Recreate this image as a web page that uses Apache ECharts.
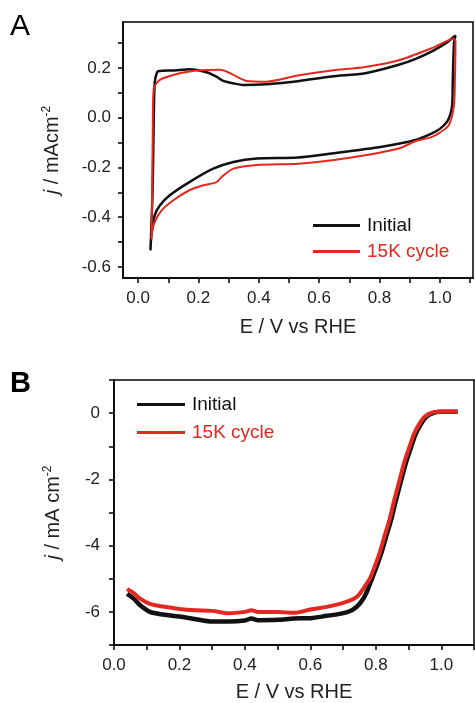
<!DOCTYPE html>
<html>
<head>
<meta charset="utf-8">
<script src="https://cdn.jsdelivr.net/npm/echarts@6/dist/echarts.min.js"></script>
<style>
  html, body { margin: 0; padding: 0; background: #fff; }
  #chart { width: 475px; height: 703px; }
</style>
</head>
<body>
<div id="chart"></div>
<script>
// panel A: cyclic voltammograms (E / V, j / mA cm-2), closed loops
const cvInitial = [
  [0.041, -0.534], [0.048, -0.3], [0.052, 0.0], [0.055, 0.14], [0.062, 0.18], [0.07, 0.188],
  [0.12, 0.19], [0.17, 0.195], [0.227, 0.183], [0.26, 0.165], [0.282, 0.148], [0.32, 0.137],
  [0.349, 0.132], [0.426, 0.135], [0.53, 0.147], [0.642, 0.166], [0.753, 0.179], [0.864, 0.213],
  [0.92, 0.237], [0.974, 0.267], [1.02, 0.3], [1.052, 0.331],
  [1.047, 0.3], [1.043, 0.15], [1.041, 0.051], [1.034, 0.01], [1.024, -0.016], [1.0, -0.045],
  [0.974, -0.063], [0.919, -0.09], [0.808, -0.117], [0.642, -0.144], [0.53, -0.16], [0.393, -0.164],
  [0.316, -0.178], [0.249, -0.205], [0.17, -0.259], [0.105, -0.312], [0.072, -0.353], [0.055, -0.393],
  [0.044, -0.474], [0.041, -0.534]
];
const cv15k = [
  [0.044, -0.49], [0.047, -0.3], [0.049, 0.0], [0.052, 0.118], [0.072, 0.152], [0.116, 0.172],
  [0.17, 0.186], [0.22, 0.192], [0.271, 0.193], [0.295, 0.185], [0.316, 0.172], [0.36, 0.148],
  [0.426, 0.145], [0.53, 0.17], [0.642, 0.19], [0.753, 0.204], [0.864, 0.231], [0.974, 0.28],
  [1.047, 0.318],
  [1.052, 0.307], [1.05, 0.15], [1.047, 0.051], [1.03, -0.03], [1.0, -0.06], [0.974, -0.077],
  [0.919, -0.095], [0.864, -0.124], [0.753, -0.151], [0.642, -0.171], [0.53, -0.185], [0.393, -0.19],
  [0.316, -0.205], [0.28, -0.235], [0.26, -0.259], [0.216, -0.272], [0.17, -0.292], [0.116, -0.333],
  [0.078, -0.373], [0.055, -0.42], [0.046, -0.46], [0.044, -0.49]
];

// panel B: ORR polarization curves
const orrInitial = [
  [0.04, -5.46], [0.06, -5.6], [0.08, -5.8], [0.11, -6.0], [0.15, -6.08], [0.2, -6.14],
  [0.25, -6.22], [0.3, -6.29], [0.35, -6.29], [0.4, -6.26], [0.42, -6.2], [0.44, -6.25],
  [0.5, -6.24], [0.55, -6.2], [0.6, -6.19], [0.65, -6.12], [0.69, -6.06], [0.72, -5.98],
  [0.74, -5.86], [0.755, -5.7], [0.77, -5.45], [0.785, -5.08], [0.8, -4.7], [0.816, -4.25],
  [0.831, -3.75], [0.846, -3.25], [0.861, -2.65], [0.877, -2.05], [0.892, -1.5], [0.907, -1.05],
  [0.922, -0.63], [0.938, -0.33], [0.954, -0.11], [0.977, 0.01], [1.0, 0.04], [1.05, 0.04]
];
const orr15k = [
  [0.04, -5.31], [0.06, -5.43], [0.08, -5.6], [0.11, -5.76], [0.15, -5.84], [0.2, -5.91],
  [0.25, -5.95], [0.3, -5.97], [0.35, -6.04], [0.4, -6.0], [0.42, -5.95], [0.44, -6.0],
  [0.5, -6.0], [0.55, -6.03], [0.6, -5.93], [0.65, -5.85], [0.69, -5.76], [0.72, -5.66],
  [0.74, -5.56], [0.751, -5.45], [0.765, -5.25], [0.781, -5.01], [0.797, -4.62], [0.812, -4.21],
  [0.827, -3.7], [0.842, -3.21], [0.857, -2.6], [0.873, -2.01], [0.888, -1.45], [0.903, -1.01],
  [0.918, -0.6], [0.934, -0.31], [0.95, -0.1], [0.974, 0.02], [1.0, 0.04], [1.05, 0.04]
];

// ticks
const xLabelsA = [0, 0.2, 0.4, 0.6, 0.8, 1.0];
const xTicksA = [0, 0.1, 0.2, 0.3, 0.4, 0.5, 0.6, 0.7, 0.8, 0.9, 1.0, 1.1];
const yLabelsA = [-0.6, -0.4, -0.2, 0, 0.2];
const yTicksA = [-0.6, -0.5, -0.4, -0.3, -0.2, -0.1, 0, 0.1, 0.2, 0.3];
const xLabelsB = [0, 0.2, 0.4, 0.6, 0.8, 1.0];
const xTicksB = [0, 0.1, 0.2, 0.3, 0.4, 0.5, 0.6, 0.7, 0.8, 0.9, 1.0, 1.1];
const yLabelsB = [-6, -4, -2, 0];
const yTicksB = [-7, -6, -5, -4, -3, -2, -1, 0, 1];

const BLACK = '#111';
const RED = '#e3281f';
const FONT = 'Liberation Sans, Arial, sans-serif';

function axisCommon(labels, ticks, fmt, margin) {
  return {
    axisLine: { show: true, onZero: false, lineStyle: { color: '#000', width: 1.5 } },
    axisTick: { show: true, inside: false, length: 5, customValues: ticks, lineStyle: { color: '#000', width: 1.5 } },
    axisLabel: { customValues: labels, formatter: fmt, color: '#222', fontSize: 17, fontFamily: FONT, margin: margin },
    splitLine: { show: false },
    nameLocation: 'middle'
  };
}
const f1 = v => Number(v).toFixed(1);
const f0 = v => Number(v).toFixed(0);

const nameStyle = {
  color: '#222', fontSize: 20, fontFamily: FONT,
  rich: {
    i: { fontStyle: 'italic', fontSize: 20, fontFamily: FONT, color: '#222' },
    s: { fontSize: 12, fontFamily: FONT, color: '#222', verticalAlign: 'top', lineHeight: 22 }
  }
};

const chart = echarts.init(document.getElementById('chart'), null, { renderer: 'canvas' });
chart.setOption({
  animation: false,
  backgroundColor: '#fff',
  grid: [
    { left: 123, top: 22, width: 350, height: 256, show: true, borderColor: '#000', borderWidth: 1.5, backgroundColor: 'transparent' },
    { left: 114, top: 380, width: 360, height: 267, show: true, borderColor: '#000', borderWidth: 1.5, backgroundColor: 'transparent' }
  ],
  xAxis: [
    Object.assign(axisCommon(xLabelsA, xTicksA, f1, 12), {
      type: 'value', gridIndex: 0, min: -0.05, max: 1.11,
      name: 'E / V vs RHE', nameGap: 39, nameTextStyle: nameStyle
    }),
    Object.assign(axisCommon(xLabelsB, xTicksB, f1, 12), {
      type: 'value', gridIndex: 1, min: 0, max: 1.1,
      name: 'E / V vs RHE', nameGap: 37, nameTextStyle: nameStyle
    })
  ],
  yAxis: [
    Object.assign(axisCommon(yLabelsA, yTicksA, f1, 12), {
      type: 'value', gridIndex: 0, min: -0.645, max: 0.385,
      name: '{i|j} / mAcm{s|-2}', nameGap: 60, nameRotate: 90, nameTextStyle: nameStyle
    }),
    Object.assign(axisCommon(yLabelsB, yTicksB, f0, 14), {
      type: 'value', gridIndex: 1, min: -7, max: 1,
      name: '{i|j} / mA cm{s|-2}', nameGap: 50, nameRotate: 90, nameTextStyle: nameStyle
    })
  ],
  legend: [
    {
      left: 313, top: 216, orient: 'vertical', itemGap: 7, padding: 0,
      itemWidth: 47, itemHeight: 3, icon: 'rect',
      textStyle: { fontSize: 19, fontFamily: FONT, padding: [0, 0, 0, 2] },
      data: [
        { name: 'Initial', textStyle: { color: BLACK } },
        { name: '15K cycle', textStyle: { color: RED } }
      ]
    },
    {
      left: 137, top: 395, orient: 'vertical', itemGap: 9, padding: 0,
      itemWidth: 48, itemHeight: 3, icon: 'rect',
      textStyle: { fontSize: 19, fontFamily: FONT, padding: [0, 0, 0, 2] },
      data: [
        { name: 'Initial', textStyle: { color: BLACK } },
        { name: '15K cycle', textStyle: { color: RED } }
      ]
    }
  ],
  graphic: [
    { type: 'text', left: 10, top: 12, style: { text: 'A', fontSize: 30, fontFamily: FONT, fill: '#000' } },
    { type: 'text', left: 10, top: 369, style: { text: 'B', fontSize: 29, fontWeight: 'bold', fontFamily: FONT, fill: '#000' } }
  ],
  series: [
    { name: 'Initial', type: 'line', xAxisIndex: 0, yAxisIndex: 0, data: cvInitial, symbol: 'none', smooth: 0.25, lineStyle: { color: BLACK, width: 2.5 }, itemStyle: { color: BLACK }, z: 2 },
    { name: '15K cycle', type: 'line', xAxisIndex: 0, yAxisIndex: 0, data: cv15k, symbol: 'none', smooth: 0.25, lineStyle: { color: RED, width: 2 }, itemStyle: { color: RED }, z: 3 },
    { name: 'Initial', type: 'line', xAxisIndex: 1, yAxisIndex: 1, data: orrInitial, symbol: 'none', smooth: 0.3, lineStyle: { color: BLACK, width: 4.5 }, itemStyle: { color: BLACK }, z: 2 },
    { name: '15K cycle', type: 'line', xAxisIndex: 1, yAxisIndex: 1, data: orr15k, symbol: 'none', smooth: 0.3, lineStyle: { color: RED, width: 4 }, itemStyle: { color: RED }, z: 3 }
  ]
});
</script>
</body>
</html>
